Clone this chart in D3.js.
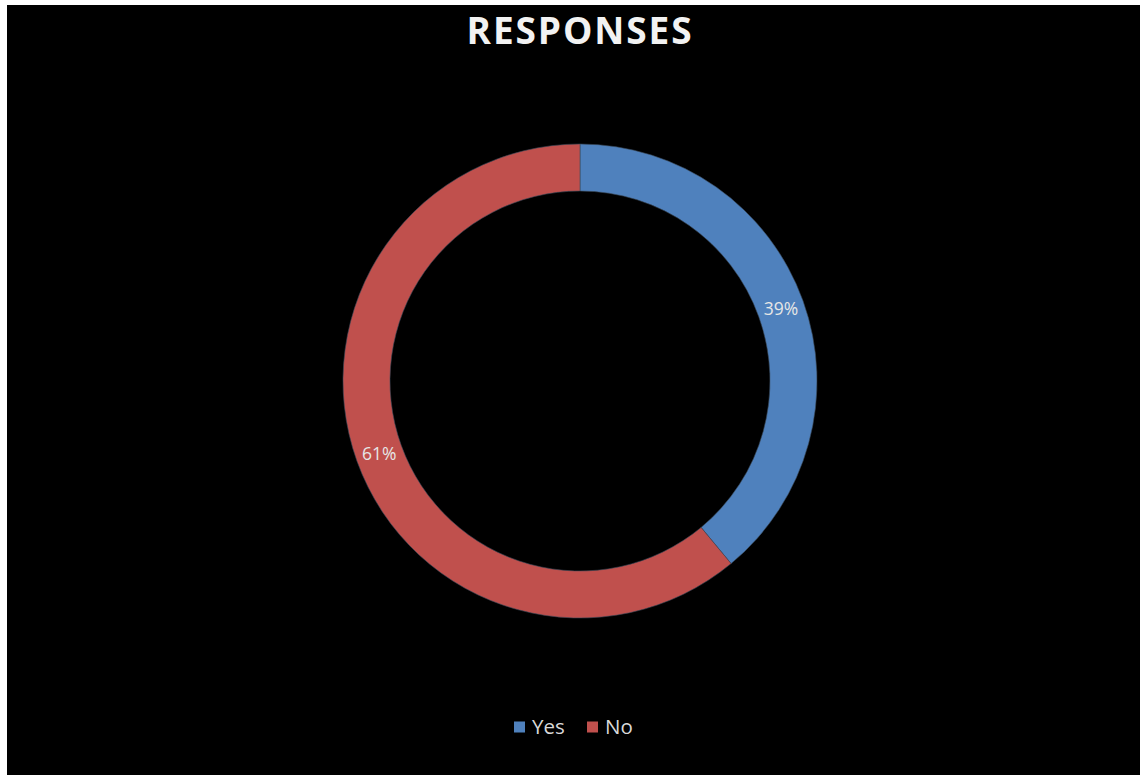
<!DOCTYPE html>
<html>
<head>
<meta charset="utf-8">
<script src="https://cdn.jsdelivr.net/npm/d3@7"></script>
<style>
  html, body { margin: 0; padding: 0; background: #ffffff; }
  svg { display: block; }
</style>
</head>
<body>
<svg id="chart" width="1140" height="775"></svg>
<script>
// Survey answers
const categories = ["Yes", "No"];
const values = [39, 61];
const colors = ["#4F81BD", "#C0504D"];
const title = "RESPONSES";

const W = 1140, H = 775;
const svg = d3.select("#chart");

// Black chart area inside a thin white margin
svg.append("rect")
  .attr("x", 7).attr("y", 5)
  .attr("width", W - 7).attr("height", H - 5)
  .attr("fill", "#000000");

svg.append("text")
  .attr("x", 580).attr("y", 44)
  .attr("text-anchor", "middle")
  .attr("font-family", "'Open Sans', sans-serif")
  .attr("font-weight", 700)
  .attr("font-size", 37)
  .attr("letter-spacing", 1.9)
  .attr("fill", "#f2f2f2")
  .text(title);

const cx = 580, cy = 381;
const outerR = 237, innerR = 190;

const pie = d3.pie().sort(null).value(d => d.value);
const arc = d3.arc().innerRadius(innerR).outerRadius(outerR);
const data = categories.map((c, i) => ({ name: c, value: values[i], color: colors[i] }));
const arcs = pie(data);
const total = d3.sum(values);

const g = svg.append("g").attr("transform", `translate(${cx},${cy})`);

g.selectAll("path.slice")
  .data(arcs)
  .enter().append("path")
  .attr("class", "slice")
  .attr("d", arc)
  .attr("fill", d => d.data.color)
  .attr("stroke", "#3a4a5a")
  .attr("stroke-width", 0.6);

g.selectAll("text.pct")
  .data(arcs)
  .enter().append("text")
  .attr("class", "pct")
  .attr("transform", d => `translate(${arc.centroid(d)})`)
  .attr("text-anchor", "middle")
  .attr("dy", "0.36em")
  .attr("font-family", "'Open Sans', sans-serif")
  .attr("font-size", 17.5)
  .attr("fill", "#e6e6e6")
  .text(d => Math.round(d.data.value / total * 100) + "%");

// Legend
const legend = svg.append("g").attr("transform", "translate(514,727)");
const items = [
  { x: 0, name: categories[0], color: colors[0] },
  { x: 73, name: categories[1], color: colors[1] }
];
const li = legend.selectAll("g.item").data(items).enter().append("g")
  .attr("class", "item")
  .attr("transform", d => `translate(${d.x},0)`);
li.append("rect")
  .attr("x", 0).attr("y", -5.5)
  .attr("width", 11).attr("height", 11)
  .attr("fill", d => d.color);
li.append("text")
  .attr("x", 18).attr("y", 0)
  .attr("dy", "0.36em")
  .attr("font-family", "'Open Sans', sans-serif")
  .attr("font-size", 20.5)
  .attr("fill", "#d9d9d9")
  .text(d => d.name);
</script>
</body>
</html>
